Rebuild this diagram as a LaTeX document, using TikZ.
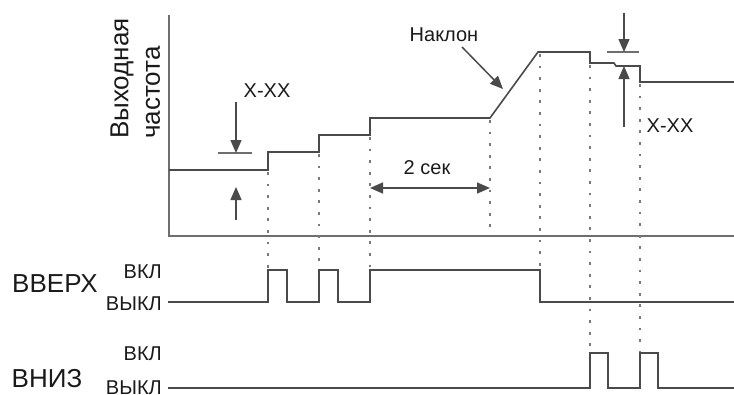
\documentclass[tikz,border=0pt]{standalone}
\usepackage{fontspec}
\setmainfont{Liberation Sans}
\usetikzlibrary{arrows.meta}
\definecolor{ln}{HTML}{4A4A4A}
\definecolor{ax}{HTML}{6E6E6E}
\definecolor{dt}{HTML}{7A7A7A}
\definecolor{tx}{HTML}{1A1A1A}
\tikzset{
  sig/.style={draw=ln, line width=1.6pt, line join=miter},
  axis/.style={draw=ax, line width=1.8pt},
  dots/.style={draw=dt, line width=2.8pt, dash pattern=on 2.8pt off 8.8pt},
  arr/.style={draw=ln, line width=1.5pt, -{Triangle[length=13pt,width=11pt]}},
  darr/.style={draw=ln, line width=1.5pt, {Triangle[length=13pt,width=11pt]}-{Triangle[length=13pt,width=11pt]}},
  tick/.style={draw=ax, line width=1.5pt},
  lbl/.style={text=tx, inner sep=0pt, font=\fontsize{20}{22}\selectfont},
  big/.style={text=tx, inner sep=0pt, font=\fontsize{26}{28}\selectfont},
}
\begin{document}
\begin{tikzpicture}[x=1pt,y=-1pt]
\useasboundingbox (0,0) rectangle (734,394);
\clip (0,0) rectangle (734,394);
% axes
\coordinate (ytop) at (169,15);
\coordinate (orig) at (169,236);
\coordinate (xend) at (734,236);
\draw[axis] (ytop) -- (orig) -- (xend);
% axis label
\node[big, anchor=west, rotate=90] (lab1) at (122,139) {Выходная};
\node[big, anchor=west, rotate=90] (lab2) at (153,139) {частота};
% dotted guides
\draw[dots] (268,172) -- (268,270);
\draw[dots] (319,154) -- (319,270);
\draw[dots] (370,137) -- (370,270);
\draw[dots] (490,120) -- (490,236);
\draw[dots] (540,54) -- (540,270);
\draw[dots] (590,65) -- (590,353);
\draw[dots] (640,84) -- (640,353);
% frequency curve
\draw[sig] (169,170) -- (268,170) -- (268,152) -- (319,152) -- (319,135)
  -- (370,135) -- (370,118) -- (490,118) -- (538,52) -- (590,52) -- (590,63)
  -- (614,63) -- (616,66) -- (640,66) -- (640,82) -- (734,82);
% left X-XX indicator
\draw[tick] (218,153) -- (252,153);
\coordinate (la1) at (236,102);
\coordinate (la2) at (236,153);
\coordinate (la3) at (236,220);
\coordinate (la4) at (236,187);
\draw[arr] (la1) -- (la2);
\draw[arr] (la3) -- (la4);
\node[lbl] (xx1) at (267,91) {X-XX};
% right X-XX indicator
\draw[tick] (607,52) -- (639,52);
\coordinate (ra1) at (624,13);
\coordinate (ra2) at (624,52);
\coordinate (ra3) at (624,127);
\coordinate (ra4) at (624,66);
\draw[arr] (ra1) -- (ra2);
\draw[arr] (ra3) -- (ra4);
\node[lbl] (xx2) at (670,126) {X-XX};
% slope label
\node[lbl] (nak) at (444,35) {Наклон};
\coordinate (na1) at (462,47);
\coordinate (na2) at (503,89);
\draw[arr] (na1) -- (na2);
% 2 sec
\node[lbl] (sek) at (427,168) {2 сек};
\coordinate (s1) at (370,188);
\coordinate (s2) at (490,188);
\draw[darr] (s1) -- (s2);
% UP signal
\node[big] (up) at (55,284) {ВВЕРХ};
\node[lbl, anchor=east] (upon) at (162,272) {ВКЛ};
\node[lbl, anchor=east] (upoff) at (162,304) {ВЫКЛ};
\draw[sig] (168,302) -- (268,302) -- (268,270) -- (287,270) -- (287,302)
  -- (319,302) -- (319,270) -- (338,270) -- (338,302) -- (370,302)
  -- (370,270) -- (540,270) -- (540,302) -- (734,302);
% DOWN signal
\node[big] (dn) at (47,379) {ВНИЗ};
\node[lbl, anchor=east] (dnon) at (162,354) {ВКЛ};
\node[lbl, anchor=east] (dnoff) at (162,388) {ВЫКЛ};
\draw[sig] (168,388) -- (590,388) -- (590,353) -- (608,353) -- (608,388)
  -- (640,388) -- (640,353) -- (658,353) -- (658,388) -- (734,388);
\end{tikzpicture}
\end{document}
